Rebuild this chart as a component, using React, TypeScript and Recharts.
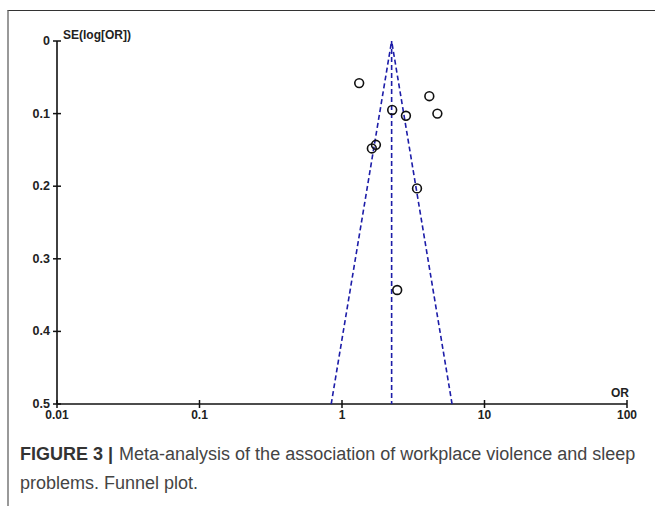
import { ScatterChart, Scatter, XAxis, YAxis } from 'recharts';

// study estimates
const studyOR = [1.32, 4.1, 4.67, 2.25, 2.81, 1.73, 1.62, 3.36, 2.44];
const studySE = [0.058, 0.076, 0.1, 0.095, 0.103, 0.143, 0.148, 0.203, 0.343];

// funnel outline (pseudo 95% limits) and pooled estimate
const funnelLeftOR = [0.84, 2.23];
const funnelRightOR = [5.92, 2.23];
const funnelSE = [0.5, 0];
const pooledOR = [2.23, 2.23];
const pooledSE = [0, 0.5];

const xTicks = [0.01, 0.1, 1, 10, 100];
const yTicks = [0, 0.1, 0.2, 0.3, 0.4, 0.5];

const studies = studyOR.map((or, i) => ({ or, se: studySE[i] }));
const leftEdge = funnelLeftOR.map((or, i) => ({ or, se: funnelSE[i] }));
const rightEdge = funnelRightOR.map((or, i) => ({ or, se: funnelSE[i] }));
const pooled = pooledOR.map((or, i) => ({ or, se: pooledSE[i] }));

const FONT = '"Liberation Sans", Arial, sans-serif';
const LINE = '#1c1ca8';

const XTick = ({ x, y, payload }: any) => (
  <g>
    <line x1={x} x2={x} y1={y - 4} y2={y + 4} stroke="#111" strokeWidth={1.5} />
    <text x={x} y={y + 15} textAnchor="middle" fontSize={12} fontWeight={600} fill="#222" fontFamily={FONT}>
      {payload.value}
    </text>
  </g>
);

const YTick = ({ x, y, payload }: any) => (
  <g>
    <line x1={x - 4} x2={x + 4} y1={y} y2={y} stroke="#111" strokeWidth={1.5} />
    <text x={x - 7} y={y + 4} textAnchor="end" fontSize={12.5} fontWeight={600} fill="#222" fontFamily={FONT}>
      {payload.value}
    </text>
  </g>
);

const Ring = ({ cx, cy }: any) => (
  <circle cx={cx} cy={cy} r={4.4} fill="none" stroke="#111" strokeWidth={1.6} />
);

const NoDot = () => <g />;

export default function App() {
  return (
    <div style={{ position: 'absolute', left: 0, top: 0, width: 655, height: 506, background: '#fff', overflow: 'hidden' }}>
      <div style={{ position: 'absolute', left: 7, top: 10, width: 660, height: 520, borderLeft: '2px solid #999', borderTop: '1.5px solid #333' }} />
      <div style={{ position: 'absolute', left: 0, top: 0 }}>
        <ScatterChart width={655} height={440} margin={{ top: 41, right: 28, bottom: 0, left: 0 }}>
          <XAxis
            type="number"
            dataKey="or"
            scale="log"
            domain={[0.01, 100]}
            ticks={xTicks}
            allowDataOverflow
            height={36}
            tickSize={0}
            tickMargin={0}
            tickLine={false}
            tick={<XTick />}
            axisLine={{ stroke: '#111', strokeWidth: 1.6 }}
          />
          <YAxis
            type="number"
            dataKey="se"
            domain={[0, 0.5]}
            ticks={yTicks}
            reversed
            width={57}
            tickSize={0}
            tickMargin={0}
            tickLine={false}
            tick={<YTick />}
            axisLine={{ stroke: '#111', strokeWidth: 1.6 }}
          />
          <Scatter data={leftEdge} line={{ stroke: LINE, strokeWidth: 1.6, strokeDasharray: '5 3' }} shape={<NoDot />} isAnimationActive={false} />
          <Scatter data={rightEdge} line={{ stroke: LINE, strokeWidth: 1.6, strokeDasharray: '5 3' }} shape={<NoDot />} isAnimationActive={false} />
          <Scatter data={pooled} line={{ stroke: LINE, strokeWidth: 1.6, strokeDasharray: '5 3' }} shape={<NoDot />} isAnimationActive={false} />
          <Scatter data={studies} shape={<Ring />} isAnimationActive={false} />
        </ScatterChart>
      </div>
      <div style={{ position: 'absolute', left: 63, top: 28, fontFamily: FONT, fontSize: 12, fontWeight: 600, color: '#222' }}>SE(log[OR])</div>
      <div style={{ position: 'absolute', left: 611, top: 386, fontFamily: FONT, fontSize: 12, fontWeight: 600, color: '#222' }}>OR</div>
      <div style={{ position: 'absolute', left: 20, top: 440, fontFamily: FONT, fontSize: 18, lineHeight: '29px', color: '#444', whiteSpace: 'nowrap' }}>
        <div>
          <b style={{ color: '#333', marginRight: 6 }}>FIGURE 3 |</b>
          <span>Meta-analysis of the association of workplace violence and sleep</span>
        </div>
        <div>problems. Funnel plot.</div>
      </div>
    </div>
  );
}
